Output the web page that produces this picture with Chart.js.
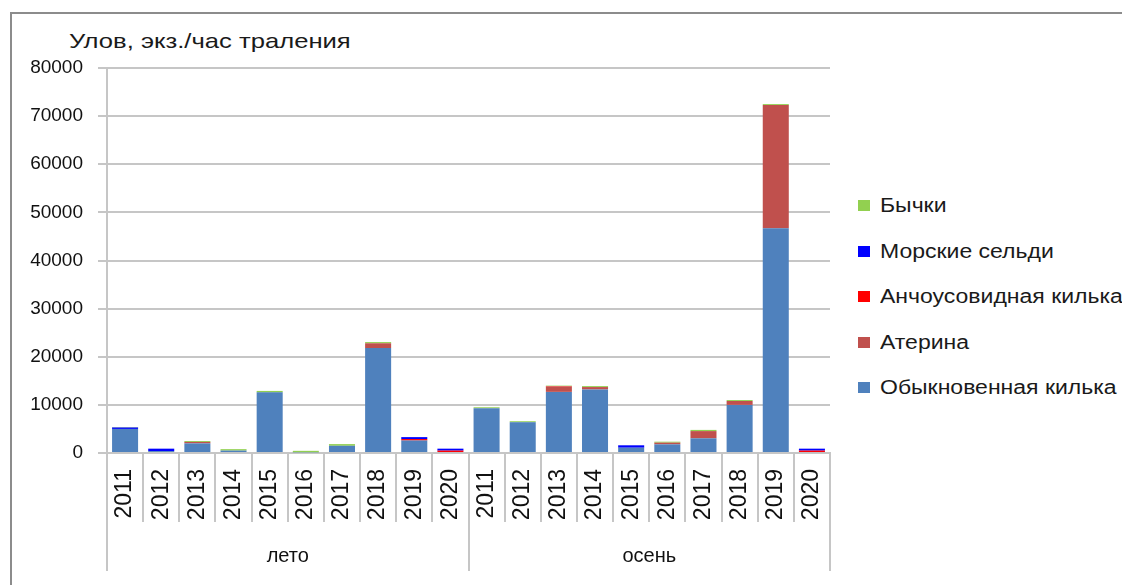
<!DOCTYPE html>
<html>
<head>
<meta charset="utf-8">
<script src="https://cdn.jsdelivr.net/npm/chart.js@4.4.0/dist/chart.umd.min.js"></script>
<style>
    body { margin: 0; background: #fff; font-family: "Liberation Sans", Arial, sans-serif; }
    #wrap { position: relative; width: 1122px; height: 585px; overflow: hidden; }
    #frame { position: absolute; left: 10px; top: 12px; width: 1130px; height: 600px; border: 2px solid #8c8c8c; box-sizing: border-box; }
    #title { position: absolute; left: 69px; top: 29px; font-size: 21px; color: #1a1a1a; white-space: nowrap; transform: scaleX(1.22); transform-origin: left top; }
    #legend { position: absolute; left: 858px; top: 190px; font-size: 20px; color: #1a1a1a; }
    #legend div { height: 45.5px; line-height: 30px; white-space: nowrap; }
    #legend span.box { display: inline-block; width: 12px; height: 11px; margin-right: 10px; vertical-align: 1px; }
    #legend span.txt { display: inline-block; transform: scaleX(1.15); transform-origin: left center; }
    canvas { position: absolute; left: 0; top: 0; }
</style>
</head>
<body>
<div id="wrap">
    <div id="frame"></div>
    <div id="title">Улов, экз./час траления</div>
    <div id="legend"></div>
    <canvas id="chart" width="1122" height="585"></canvas>
</div>
<script>
// years inside each season, and the two seasons
const years = ['2011', '2012', '2013', '2014', '2015', '2016', '2017', '2018', '2019', '2020'];
const seasons = ['лето', 'осень'];
const yTicks = [0, 10000, 20000, 30000, 40000, 50000, 60000, 70000, 80000];

// values: first 10 = лето, last 10 = осень
const kilka   = [5000, 400, 2000, 500, 12600, 150, 1500, 21800, 2600, 200,   9300, 6400, 12700, 13200, 1100, 1800, 3050, 10000, 46700, 200];
const aterina = [0, 0, 300, 0, 0, 0, 0, 1000, 0, 0,                          0, 0, 1100, 500, 0, 350, 1500, 800, 25600, 0];
const anchous = [0, 0, 0, 0, 0, 0, 0, 0, 300, 300,                           0, 0, 100, 0, 0, 0, 0, 0, 0, 300];
const seldi   = [300, 500, 0, 0, 0, 0, 0, 0, 400, 400,                       0, 0, 0, 0, 500, 0, 0, 0, 0, 400];
const bychki  = [100, 0, 200, 300, 300, 300, 350, 250, 0, 0,                 200, 200, 100, 200, 0, 200, 250, 200, 200, 0];

const series = [
    { label: 'Обыкновенная килька', data: kilka, color: '#4f81bd' },
    { label: 'Атерина', data: aterina, color: '#c0504d' },
    { label: 'Анчоусовидная килька', data: anchous, color: '#ff0000' },
    { label: 'Морские сельди', data: seldi, color: '#0000ff' },
    { label: 'Бычки', data: bychki, color: '#92d050' }
];

const labels = seasons.flatMap(() => years);
const gridColor = '#c6c6c6';

// legend, top-down in reverse stacking order
document.getElementById('legend').innerHTML = series.slice().reverse().map(s =>
    `<div><span class="box" style="background:${s.color}"></span><span class="txt">${s.label}</span></div>`
).join('');

new Chart(document.getElementById('chart'), {
    type: 'bar',
    data: {
        labels: labels,
        datasets: series.map(s => ({
            label: s.label,
            data: s.data,
            backgroundColor: s.color,
            borderWidth: 0,
            barPercentage: 0.72,
            categoryPercentage: 1
        }))
    },
    options: {
        responsive: false,
        animation: false,
        layout: { padding: { left: 0, top: 68, right: 292, bottom: 14 } },
        plugins: { legend: { display: false }, tooltip: { enabled: false } },
        scales: {
            x: {
                stacked: true,
                offset: true,
                grid: { offset: true, drawOnChartArea: false, tickLength: 69, color: gridColor, lineWidth: 2 },
                border: { color: gridColor, width: 2 },
                ticks: {
                    autoSkip: false, minRotation: 90, maxRotation: 90, padding: -53,
                    color: '#111', font: { family: 'Liberation Sans', size: 23 }
                },
                afterFit: scale => { scale.height = 69; }
            },
            x2: {
                type: 'category',
                labels: seasons,
                position: 'bottom',
                offset: true,
                grid: { offset: true, drawOnChartArea: false, tickLength: 49, color: gridColor, lineWidth: 2 },
                border: { display: false },
                ticks: { padding: -27, color: '#111', font: { family: 'Liberation Sans', size: 20 } },
                afterFit: scale => { scale.height = 49; }
            },
            y: {
                stacked: true,
                min: 0,
                max: 80000,
                afterBuildTicks: scale => { scale.ticks = yTicks.map(v => ({ value: v })); },
                grid: { color: gridColor, lineWidth: 2, tickLength: 9 },
                border: { color: gridColor, width: 2 },
                ticks: {
                    padding: 15, color: '#111', font: { family: 'Liberation Sans', size: 19 },
                    callback: v => String(v)
                },
                afterFit: scale => { scale.width = 107; }
            }
        }
    }
});
</script>
</body>
</html>
